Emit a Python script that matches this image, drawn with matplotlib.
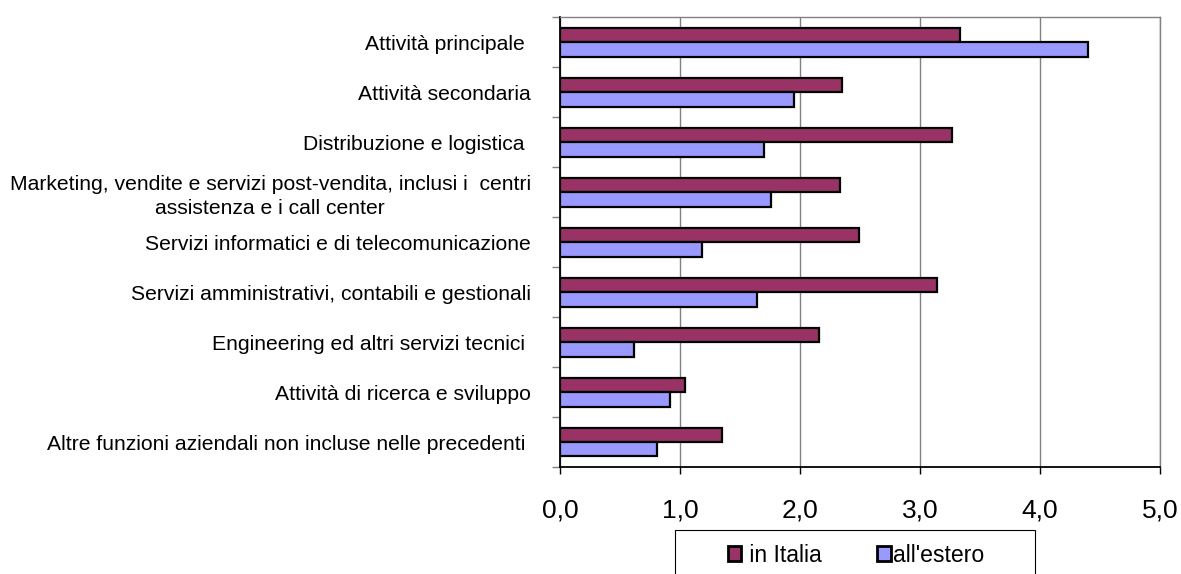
import numpy as np
import matplotlib
matplotlib.use("Agg")
import matplotlib.pyplot as plt
from matplotlib.patches import Rectangle
from matplotlib.ticker import FixedLocator, FuncFormatter

categories = [
    "Attività principale ",
    "Attività secondaria",
    "Distribuzione e logistica ",
    "Marketing, vendite e servizi post-vendita, inclusi i  centri\nassistenza e i call center",
    "Servizi informatici e di telecomunicazione",
    "Servizi amministrativi, contabili e gestionali",
    "Engineering ed altri servizi tecnici ",
    "Attività di ricerca e sviluppo",
    "Altre funzioni aziendali non incluse nelle precedenti ",
]
in_italia = [3.33, 2.35, 3.27, 2.33, 2.49, 3.14, 2.16, 1.04, 1.35]
all_estero = [4.40, 1.95, 1.70, 1.76, 1.18, 1.64, 0.62, 0.92, 0.81]
series_labels = [" in Italia", "all'estero"]
x_ticks = [0, 1, 2, 3, 4, 5]

plt.rcParams["font.family"] = ["Liberation Sans", "DejaVu Sans"]

W, H = 1181, 574
fig = plt.figure(figsize=(W / 100, H / 100), dpi=100)
ax = fig.add_axes([560 / W, 1 - 467 / H, 600 / W, 450 / H])

y = np.arange(len(categories))
h = 0.29
ax.barh(y - h / 2, in_italia, height=h, color="#993366", edgecolor="black",
        linewidth=1.6, label=series_labels[0], zorder=3)
ax.barh(y + h / 2, all_estero, height=h, color="#9999FF", edgecolor="black",
        linewidth=1.6, label=series_labels[1], zorder=3)

ax.set_xlim(0, 5)
ax.set_ylim(len(categories) - 0.5, -0.5)

ax.set_yticks(y)
ax.set_yticklabels(categories, fontsize=15.2, multialignment="center",
                   linespacing=1.35)
ax.yaxis.set_minor_locator(FixedLocator(np.arange(-0.5, len(categories), 1.0)))
ax.tick_params(axis="y", which="major", length=0, pad=21)
ax.tick_params(axis="y", which="minor", length=6, color="#808080", width=1)

ax.set_xticks(x_ticks)
ax.xaxis.set_major_formatter(FuncFormatter(lambda v, p: f"{v:.1f}".replace(".", ",")))
ax.tick_params(axis="x", which="major", length=5, width=1, labelsize=19, pad=18)

ax.grid(axis="x", color="#808080", linewidth=1, zorder=0)
ax.set_axisbelow(True)
for side in ["top", "right"]:
    ax.spines[side].set_color("#808080")
    ax.spines[side].set_linewidth(1)
for side in ["left", "bottom"]:
    ax.spines[side].set_color("black")
    ax.spines[side].set_linewidth(1.3)

# legend: box drawn separately, it runs past the bottom edge like the original
fig.patches.append(Rectangle((675 / W, -0.05), 360 / W, 0.05 + 1 - 530 / H,
                             transform=fig.transFigure, facecolor="white",
                             edgecolor="black", linewidth=0.8))
leg = fig.legend(loc="center", bbox_to_anchor=(856 / W, 1 - 555 / H),
                 ncol=2, fontsize=16.6, frameon=False,
                 handlelength=0.58, handleheight=0.58,
                 handletextpad=0.1, columnspacing=2.4, borderpad=0,
                 borderaxespad=0)
for patch in leg.get_patches():
    patch.set_linewidth(2.0)

fig.savefig("out.png", dpi=100)
